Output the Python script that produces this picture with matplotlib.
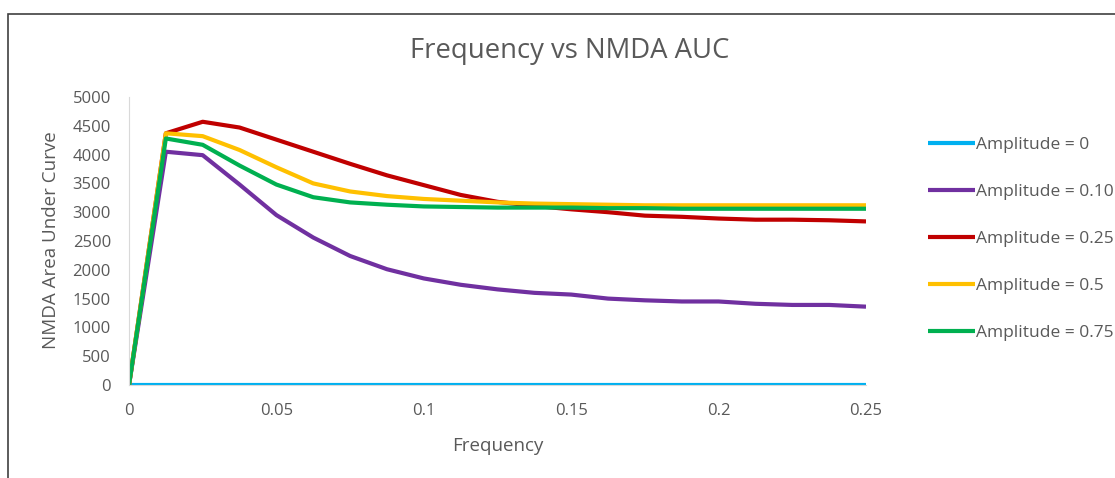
import matplotlib
matplotlib.use("Agg")
import matplotlib.pyplot as plt
from matplotlib.patches import Rectangle

plt.rcParams['font.family'] = ['Open Sans', 'DejaVu Sans']

# sampling frequencies (step 0.0125)
frequency = [0, 0.0125, 0.025, 0.0375, 0.05, 0.0625, 0.075, 0.0875, 0.1, 0.1125,
             0.125, 0.1375, 0.15, 0.1625, 0.175, 0.1875, 0.2, 0.2125, 0.225, 0.2375, 0.25]

amp_0 = [0] * 21
amp_010 = [0, 4050, 3990, 3480, 2950, 2560, 2240, 2010, 1850, 1740,
           1660, 1600, 1570, 1500, 1470, 1450, 1450, 1410, 1390, 1390, 1360]
amp_025 = [0, 4370, 4570, 4470, 4260, 4050, 3840, 3640, 3470, 3300,
           3180, 3110, 3050, 3000, 2940, 2920, 2890, 2870, 2870, 2860, 2840]
amp_05 = [0, 4370, 4320, 4080, 3780, 3500, 3360, 3280, 3230, 3200,
          3170, 3150, 3140, 3130, 3120, 3120, 3120, 3120, 3120, 3120, 3120]
amp_075 = [0, 4280, 4170, 3810, 3480, 3260, 3170, 3130, 3100, 3090,
           3080, 3080, 3080, 3070, 3070, 3060, 3060, 3060, 3060, 3060, 3060]

series = [
    ("Amplitude = 0", amp_0, "#00B0F0"),
    ("Amplitude = 0.10", amp_010, "#7030A0"),
    ("Amplitude = 0.25", amp_025, "#C00000"),
    ("Amplitude = 0.5", amp_05, "#FFC000"),
    ("Amplitude = 0.75", amp_075, "#00B050"),
]

fig = plt.figure(figsize=(11.15, 4.78), dpi=100)
ax = fig.add_axes([129 / 1115, 1 - 385 / 478, 737 / 1115, 288 / 478])

for label, vals, color in series:
    ax.plot(frequency, vals, color=color, lw=3, label=label, solid_capstyle='butt')

ax.set_xlim(0, 0.25)
ax.set_ylim(0, 5000)
ax.set_xticks([0, 0.05, 0.1, 0.15, 0.2, 0.25])
ax.set_xticklabels(["0", "0.05", "0.1", "0.15", "0.2", "0.25"])
ax.set_yticks(range(0, 5001, 500))

for side in ["top", "right"]:
    ax.spines[side].set_visible(False)
for side in ["left", "bottom"]:
    ax.spines[side].set_color("#D9D9D9")
ax.tick_params(length=0, labelsize=12, colors="#595959")
ax.tick_params(axis='y', pad=13)
ax.tick_params(axis='x', pad=13)

ax.set_xlabel("Frequency", fontsize=13.5, color="#595959", va='center')
ax.xaxis.set_label_coords(0.5, (385 - 446) / 288)
ax.set_ylabel("NMDA Area Under Curve", fontsize=13.5, color="#595959", va='center')
ax.yaxis.set_label_coords((51 - 129) / 737, (385 - 240) / 288)

fig.text(570 / 1115, 1 - 51 / 478, "Frequency vs NMDA AUC", fontsize=19.8,
         color="#595959", ha='center', va='center')

fig.legend(loc='upper left', bbox_to_anchor=(928 / 1115, 1 - 137 / 478),
           frameon=False, fontsize=12.5, labelcolor="#595959",
           handlelength=2.7, handletextpad=0.08, labelspacing=1.78,
           borderaxespad=0, borderpad=0)

# chart border
fig.patches.append(Rectangle((8 / 1115, -0.1), 1.2, 1 - 14 / 478 + 0.1,
                             transform=fig.transFigure, fill=False,
                             edgecolor="#404040", lw=1.2))

fig.savefig("out.png", dpi=100)
